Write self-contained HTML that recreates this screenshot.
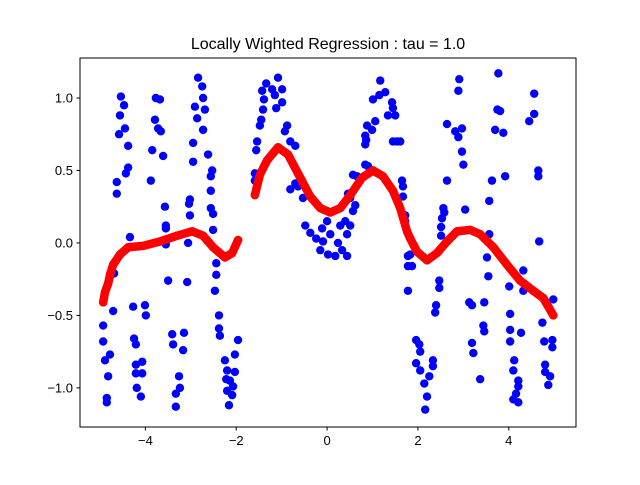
<!DOCTYPE html>
<html><head><meta charset="utf-8"><style>
body{margin:0;background:#fff}
svg text{font-family:"Liberation Sans","DejaVu Sans",sans-serif}
</style></head><body>
<svg id="chart" width="640" height="480" xmlns="http://www.w3.org/2000/svg">
<rect width="640" height="480" fill="#fff"/>
<text x="328" y="49" font-size="16" text-anchor="middle">Locally Wighted Regression : tau = 1.0</text>
<g id="plot"></g>
<rect x="80" y="58" width="496" height="369" fill="none" stroke="#000" stroke-width="1"/>
<g id="axes"></g>
</svg>
<script>
const blueX=[-4.54,-4.47,-4.56,-4.45,-4.58,-4.38,-4.38,-4.43,-4.63,-4.63,-4.34,-4.69,-4.71,-4.93,-4.93,-4.78,-4.89,-4.82,-4.85,-4.85,
-3.77,-3.68,-3.79,-3.72,-3.66,-3.85,-3.61,-3.88,-3.57,-3.55,-3.55,-3.55,-3.50,-4.27,-4.01,-3.99,-4.25,-4.21,-4.21,-4.07,-4.21,-4.07,-4.19,-4.10,
-2.84,-2.75,-2.73,-2.91,-2.69,-2.86,-2.73,-2.95,-2.62,-2.95,-2.53,-2.56,-2.56,-3.02,-3.04,-3.02,-2.56,-2.51,-2.51,-3.06,-3.08,-2.44,-2.44,-2.47,-2.38,-2.38,-2.36,-3.41,-3.15,-3.39,-3.17,-3.26,-3.24,-3.33,-3.33,
-1.96,-2.03,-2.25,-2.20,-2.03,-2.22,-2.14,-2.07,-2.20,-2.09,-2.16,
-1.08,-1.34,-1.43,-1.21,-0.99,-1.15,-1.39,-0.99,-1.12,-1.41,-1.45,-1.48,-0.88,-0.93,-1.54,-0.81,-1.56,-0.70,-1.59,-1.59,-0.81,-0.70,-0.55,-0.64,-0.53,
-0.48,-0.37,-0.11,0.00,-0.24,-0.09,0.07,-0.15,0.02,0.18,0.24,0.33,0.44,0.44,0.29,0.40,0.51,0.57,0.62,0.51,0.46,0.57,0.66,
1.17,1.28,1.15,1.01,1.43,1.45,1.34,1.50,1.06,0.88,0.99,0.84,0.86,0.84,1.45,1.54,0.84,0.90,1.65,1.67,1.67,1.72,1.72,1.78,1.78,1.78,
1.61,1.83,1.87,1.96,2.03,2.05,1.96,2.05,2.25,2.33,2.33,2.14,2.20,2.16,
2.91,2.89,2.64,2.82,2.97,2.89,2.97,3.00,2.64,2.56,2.58,2.53,2.51,2.51,2.47,2.47,2.40,2.38,3.04,3.13,3.19,3.46,3.44,3.46,3.19,3.22,3.37,
3.77,3.75,3.81,3.70,3.88,3.92,3.63,3.57,3.57,3.52,3.55,4.01,4.03,4.03,4.03,4.27,4.32,4.32,4.12,4.10,4.21,4.21,4.16,4.10,4.21,
4.56,4.56,4.45,4.65,4.65,4.67,4.98,4.74,4.78,4.96,4.96,4.80,4.80,4.91,4.87];
const blueY=[1.01,0.95,0.88,0.79,0.75,0.67,0.52,0.48,0.42,0.34,0.04,-0.21,-0.47,-0.57,-0.68,-0.77,-0.81,-0.92,-1.07,-1.10,
1.00,0.99,0.85,0.79,0.77,0.64,0.60,0.43,0.25,0.12,0.10,-0.01,-0.26,-0.44,-0.43,-0.50,-0.66,-0.70,-0.84,-0.82,-0.90,-0.90,-1.00,-1.06,
1.14,1.08,1.00,0.94,0.92,0.86,0.78,0.69,0.61,0.56,0.50,0.46,0.36,0.30,0.27,0.19,0.24,0.20,0.09,0.00,-0.27,-0.14,-0.22,-0.33,-0.50,-0.59,-0.64,-0.63,-0.62,-0.70,-0.74,-0.92,-1.00,-1.04,-1.13,
-0.67,-0.77,-0.81,-0.88,-0.89,-0.94,-0.95,-0.99,-1.02,-1.05,-1.12,
1.14,1.10,1.05,1.06,1.06,1.02,0.99,0.97,0.93,0.92,0.85,0.81,0.81,0.77,0.70,0.70,0.64,0.67,0.48,0.43,0.37,0.41,0.43,0.39,0.31,
0.12,0.07,0.10,0.15,0.03,0.01,0.06,-0.05,-0.08,-0.09,0.00,-0.05,-0.09,0.06,0.12,0.15,0.12,0.22,0.26,0.31,0.34,0.47,0.46,
1.12,1.04,1.02,0.99,0.97,0.93,0.88,0.88,0.84,0.81,0.78,0.74,0.71,0.68,0.70,0.70,0.54,0.53,0.43,0.39,0.32,0.19,0.15,-0.09,-0.16,-0.33,
0.70,-0.08,-0.16,-0.67,-0.70,-0.75,-0.83,-0.88,-0.92,-0.81,-0.85,-0.97,-1.06,-1.15,
1.13,1.05,0.82,0.77,0.79,0.73,0.63,0.54,0.43,0.24,0.21,0.17,0.11,0.05,-0.26,-0.31,-0.43,-0.48,0.23,-0.41,-0.43,-0.41,-0.57,-0.61,-0.69,-0.76,-0.94,
1.17,0.92,0.91,0.78,0.76,0.46,0.43,0.29,0.06,-0.10,-0.23,-0.30,-0.49,-0.60,-0.68,-0.62,-0.19,-0.33,-0.81,-0.88,-0.95,-0.99,-1.04,-1.08,-1.10,
1.03,0.89,0.84,0.50,0.46,0.01,-0.39,-0.55,-0.68,-0.67,-0.72,-0.84,-0.89,-0.92,-0.98];
const redX1=[-4.93,-4.89,-4.82,-4.78,-4.71,-4.56,-4.38,-4.05,-3.68,-3.30,-2.97,-2.73,-2.51,-2.25,-2.09,-1.96];
const redY1=[-0.41,-0.34,-0.28,-0.22,-0.15,-0.08,-0.03,-0.02,0.01,0.05,0.08,0.05,-0.03,-0.10,-0.07,0.02];
const redX2=[-1.59,-1.48,-1.32,-1.08,-0.86,-0.59,-0.37,-0.15,0.07,0.29,0.51,0.77,1.01,1.23,1.45,1.61,1.76,1.83,1.98,2.20,2.42,2.64,2.86,3.15,3.37,3.66,3.96,4.25,4.54,4.76,4.98];
const redY2=[0.33,0.47,0.57,0.66,0.61,0.45,0.32,0.24,0.21,0.24,0.33,0.45,0.50,0.46,0.36,0.24,0.08,0.03,-0.06,-0.12,-0.07,0.01,0.08,0.09,0.06,-0.03,-0.15,-0.26,-0.33,-0.38,-0.50];
const xTicks=[-4,-2,0,2,4];
const yTicks=[-1.0,-0.5,0.0,0.5,1.0];
const X0=-5.44,X1=5.48,Y0=-1.27,Y1=1.276;
function sx(v){return 80+(v-X0)/(X1-X0)*496;}
function sy(v){return 427-(v-Y0)/(Y1-Y0)*369;}
const NS='http://www.w3.org/2000/svg';
const plot=document.getElementById('plot');
const axes=document.getElementById('axes');
for(let i=0;i<blueX.length;i++){
  const c=document.createElementNS(NS,'circle');
  c.setAttribute('cx',sx(blueX[i]));c.setAttribute('cy',sy(blueY[i]));c.setAttribute('r',4.2);c.setAttribute('fill','#0000ff');
  
  
  plot.appendChild(c);
}
function redSeg(xs,ys){
  const p=document.createElementNS(NS,'polyline');
  p.setAttribute('points',xs.map((v,i)=>sx(v)+','+sy(ys[i])).join(' '));
  p.setAttribute('fill','none');p.setAttribute('stroke','#ff0000');p.setAttribute('stroke-width',8.5);
  p.setAttribute('stroke-linecap','round');p.setAttribute('stroke-linejoin','round');
  
  
  plot.appendChild(p);
  for(let i=0;i<xs.length;i++){
    const c=document.createElementNS(NS,'circle');
    c.setAttribute('cx',sx(xs[i]));c.setAttribute('cy',sy(ys[i]));c.setAttribute('r',4.2);c.setAttribute('fill','#ff0000');
    
    
    plot.appendChild(c);
  }
}
redSeg(redX1,redY1);redSeg(redX2,redY2);
xTicks.forEach(t=>{
  const l=document.createElementNS(NS,'line');
  l.setAttribute('x1',sx(t));l.setAttribute('x2',sx(t));l.setAttribute('y1',427);l.setAttribute('y2',430.5);l.setAttribute('stroke','#000');
  
  
  axes.appendChild(l);
  const tx=document.createElementNS(NS,'text');
  tx.setAttribute('x',sx(t));tx.setAttribute('y',445);tx.setAttribute('font-size',13);tx.setAttribute('text-anchor','middle');
  tx.textContent=(t<0?'\u2212'+(-t):String(t));
  
  
  axes.appendChild(tx);
});
yTicks.forEach(t=>{
  const l=document.createElementNS(NS,'line');
  l.setAttribute('x1',76.5);l.setAttribute('x2',80);l.setAttribute('y1',sy(t));l.setAttribute('y2',sy(t));l.setAttribute('stroke','#000');
  
  
  axes.appendChild(l);
  const tx=document.createElementNS(NS,'text');
  tx.setAttribute('x',73);tx.setAttribute('y',sy(t)+4.5);tx.setAttribute('font-size',13);tx.setAttribute('text-anchor','end');
  tx.textContent=(t<0?'\u2212'+(-t).toFixed(1):t.toFixed(1));
  
  
  axes.appendChild(tx);
});
</script>
</body></html>
